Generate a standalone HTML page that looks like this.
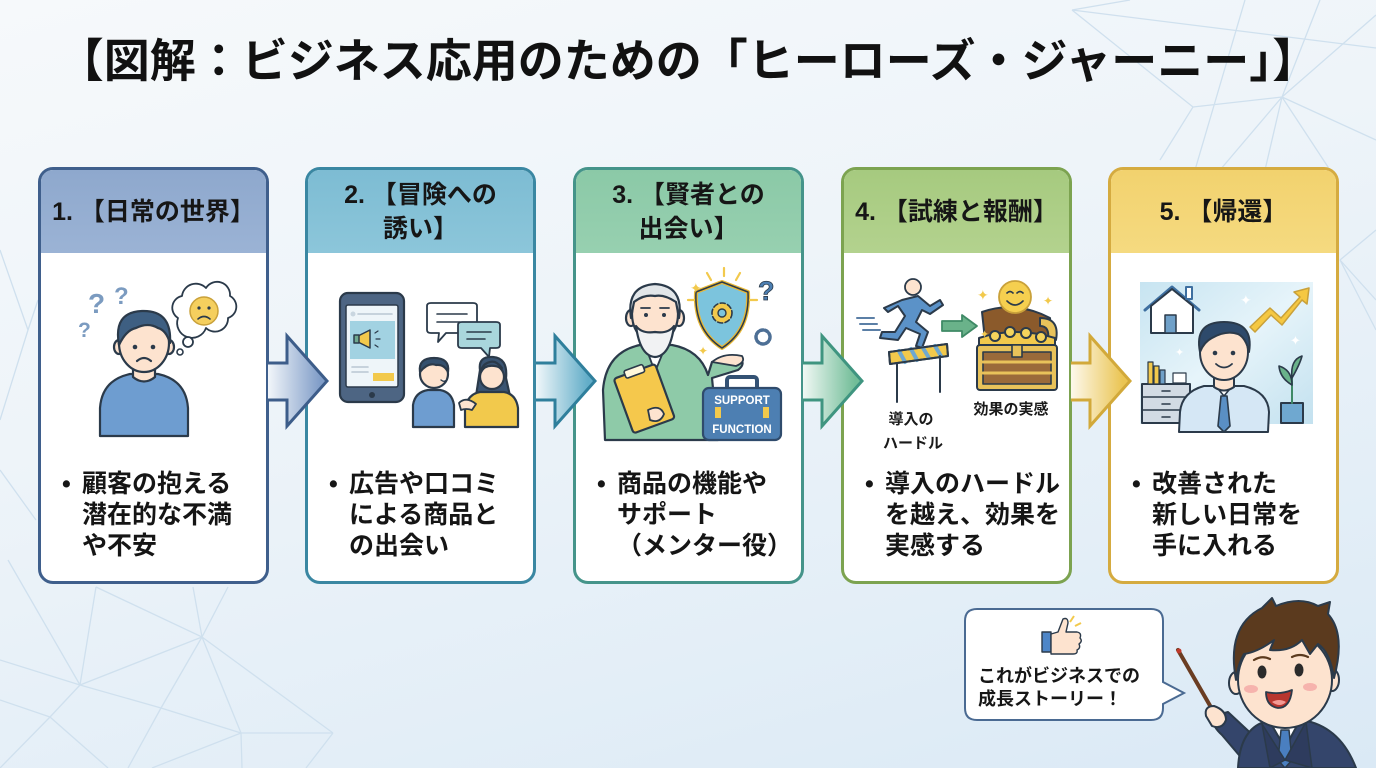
<!DOCTYPE html>
<html lang="ja"><head><meta charset="utf-8">
<style>
*{margin:0;padding:0;box-sizing:border-box}
html,body{width:1376px;height:768px;overflow:hidden}
body{position:relative;font-family:"Liberation Sans","Noto Sans CJK JP",sans-serif;color:#161616;
background:linear-gradient(165deg,#f6f9fb 0%,#eef4f9 40%,#e3eef7 75%,#dae9f5 100%)}
.title{position:absolute;left:0;top:31px;width:1376px;text-align:center;font-size:46px;font-weight:700;line-height:60px;color:#111;white-space:nowrap}
.card{position:absolute;top:167px;width:231px;height:417px;border:3px solid;border-radius:15px;background:#fff;overflow:hidden}
.hd{height:83px;display:flex;align-items:center;justify-content:center;text-align:center;font-size:25px;font-weight:700;line-height:34px;white-space:nowrap}
.bd{position:absolute;top:299px;left:41px;font-size:25px;line-height:31px;font-weight:700;white-space:nowrap;color:#151515}
.bu{position:absolute;top:299px;left:21px;font-size:25px;line-height:31px;font-weight:700}
.bubtxt{position:absolute;left:978px;top:665px;font-size:18px;line-height:23px;font-weight:700;white-space:nowrap;color:#161616}
</style></head><body>

<svg width="1376" height="768" style="position:absolute;left:0;top:0" stroke="#cfe0ee" stroke-width="1.3" fill="none">
<path d="M96 587L80 685M96 587L202 637M193 587L202 637M228 587L202 637M0 660L80 685M80 685L202 637M80 685L161 708M80 685L50 717M202 637L241 733M202 637L161 708M202 637L333 733M161 708L241 733M161 708L128 768M241 733L333 733M241 733L152 768M241 733L242 768M333 733L306 768M50 717L0 768M50 717L108 768M0 700L50 717M8 560L80 685"/>
<path d="M1072 10L1193 107M1193 107L1282 97M1072 10L1376 48M1282 97L1376 15M1282 97L1220 170M1282 97L1265 170M1282 97L1330 170M1282 97L1376 140M1245 0L1195 170M1130 0L1072 10M1320 0L1282 97M1193 107L1160 160"/>
<path d="M0 250L28 330M28 330L0 420M28 330L38 300M0 470L36 520M1340 260L1376 230M1340 260L1376 330M1340 260L1376 300"/>
</svg>

<div class="title">【図解：ビジネス応用のための「ヒーローズ・ジャーニー」】</div>

<div class="card" style="left:38px;border-color:#3f5f8c">
  <div class="hd" style="background:linear-gradient(180deg,#8ea8cd,#9bb3d5)">1. 【日常の世界】</div>
  <div class="bu">•</div>
  <div class="bd">顧客の抱える<br>潜在的な不満<br>や不安</div>
</div>
<div class="card" style="left:305px;border-color:#3a87a2">
  <div class="hd" style="background:linear-gradient(180deg,#7dbcd3,#8cc6da)">2. 【冒険への<br>誘い】</div>
  <div class="bu">•</div>
  <div class="bd">広告や口コミ<br>による商品と<br>の出会い</div>
</div>
<div class="card" style="left:573px;border-color:#45948a">
  <div class="hd" style="background:linear-gradient(180deg,#8bc9a7,#97d0b0)">3. 【賢者との<br>出会い】</div>
  <div class="bu">•</div>
  <div class="bd">商品の機能や<br>サポート<br>（メンター役）</div>
</div>
<div class="card" style="left:841px;border-color:#7ca350">
  <div class="hd" style="background:linear-gradient(180deg,#a6ca7f,#b3d28e)">4. 【試練と報酬】</div>
  <div class="bu">•</div>
  <div class="bd">導入のハードル<br>を越え、効果を<br>実感する</div>
</div>
<div class="card" style="left:1108px;border-color:#d5ab40">
  <div class="hd" style="background:linear-gradient(180deg,#f2d26e,#f5da80)">5. 【帰還】</div>
  <div class="bu">•</div>
  <div class="bd">改善された<br>新しい日常を<br>手に入れる</div>
</div>

<svg width="1376" height="768" style="position:absolute;left:0;top:0">
<defs>
 <linearGradient id="g1" gradientUnits="userSpaceOnUse" x1="268" x2="320" y1="0" y2="0"><stop offset="0" stop-color="#f2f6fa"/><stop offset="1" stop-color="#809dc8"/></linearGradient>
 <linearGradient id="g2" gradientUnits="userSpaceOnUse" x1="536" x2="588" y1="0" y2="0"><stop offset="0" stop-color="#f0f7fa"/><stop offset="1" stop-color="#62adc8"/></linearGradient>
 <linearGradient id="g3" gradientUnits="userSpaceOnUse" x1="803" x2="855" y1="0" y2="0"><stop offset="0" stop-color="#f0f8f4"/><stop offset="1" stop-color="#72bd98"/></linearGradient>
 <linearGradient id="g4" gradientUnits="userSpaceOnUse" x1="1071" x2="1123" y1="0" y2="0"><stop offset="0" stop-color="#fdf9ec"/><stop offset="1" stop-color="#eac452"/></linearGradient>
 <linearGradient id="sky" x1="0" y1="0" x2="1" y2="1"><stop offset="0" stop-color="#c7e4f1"/><stop offset="0.5" stop-color="#e6f4fa"/><stop offset="1" stop-color="#c3e1ef"/></linearGradient>
</defs>

<!-- arrows -->
<g stroke-width="3" stroke-linejoin="miter">
 <path d="M268 363H287V336L327 381L287 426V400H268Z" fill="url(#g1)" stroke="none"/>
 <path d="M268 363H287V336L327 381L287 426V400H268" fill="none" stroke="#3d5d8a"/>
 <path d="M536 363H555V336L595 381L555 426V400H536Z" fill="url(#g2)" stroke="none"/>
 <path d="M536 363H555V336L595 381L555 426V400H536" fill="none" stroke="#2f7f9c"/>
 <path d="M803 363H822V336L862 381L822 426V400H803Z" fill="url(#g3)" stroke="none"/>
 <path d="M803 363H822V336L862 381L822 426V400H803" fill="none" stroke="#3f9580"/>
 <path d="M1071 363H1090V336L1130 381L1090 426V400H1071Z" fill="url(#g4)" stroke="none"/>
 <path d="M1071 363H1090V336L1130 381L1090 426V400H1071" fill="none" stroke="#d2a93a"/>
</g>

<!-- Card 1 illustration -->
<g stroke="#2b3a4a" stroke-width="2.2" stroke-linejoin="round" stroke-linecap="round">
 <path d="M100 436V408Q102 380 130 374H158Q186 380 188 408V436Z" fill="#6e9dd0"/>
 <path d="M133 362V377Q144 386 155 377V362Z" fill="#fde3cf"/>
 <ellipse cx="119" cy="347" rx="5" ry="7" fill="#fde3cf"/>
 <ellipse cx="169" cy="347" rx="5" ry="7" fill="#fde3cf"/>
 <ellipse cx="144" cy="343" rx="25" ry="29" fill="#fde3cf"/>
 <path d="M119 345Q113 312 142 311Q172 310 170 343Q166 330 158 328Q148 322 136 328Q126 330 119 345Z" fill="#3e5f82"/>
 <circle cx="135" cy="347" r="2.3" fill="#2b3a4a" stroke="none"/>
 <circle cx="153" cy="347" r="2.3" fill="#2b3a4a" stroke="none"/>
 <path d="M137 361Q144 355 151 361" fill="none"/>
 <path d="M178 318a12 12 0 0 1 4-22a14 14 0 0 1 24-8a13 13 0 0 1 24 8a12 12 0 0 1-2 22a13 13 0 0 1-22 10a14 14 0 0 1-28-10z" fill="#fff" stroke-width="1.8"/>
 <circle cx="188" cy="342" r="5" fill="#fff" stroke-width="1.8"/>
 <circle cx="180" cy="352" r="3" fill="#fff" stroke-width="1.6"/>
 <circle cx="204" cy="311" r="14" fill="#f5cf5e" stroke="#c9a13a" stroke-width="1.5"/>
 <circle cx="199" cy="308" r="1.6" fill="#2b3a4a" stroke="none"/>
 <circle cx="209" cy="308" r="1.6" fill="#2b3a4a" stroke="none"/>
 <path d="M198 319Q204 314 210 319" fill="none" stroke-width="1.6"/>
</g>
<g fill="#7b9bc0" font-family="Liberation Sans,sans-serif" font-weight="700">
 <text x="88" y="313" font-size="28">?</text>
 <text x="114" y="304" font-size="24">?</text>
 <text x="78" y="337" font-size="21">?</text>
</g>

<!-- Card 2 illustration -->
<g stroke="#2b3a4a" stroke-width="2.2" stroke-linejoin="round" stroke-linecap="round">
 <rect x="340" y="293" width="64" height="109" rx="8" fill="#4d6583"/>
 <rect x="346" y="305" width="52" height="82" rx="2" fill="#eef5f9" stroke-width="1.5"/>
 <rect x="350" y="321" width="45" height="38" fill="#a2d2e2" stroke="none"/>
 <path d="M358 336L370 330V348L358 342Z" fill="#f2c94c" stroke-width="1.5"/>
 <rect x="354" y="335" width="5" height="8" fill="#6fa88f" stroke-width="1.5"/>
 <path d="M375 333L378 331M376 339H380M375 345L378 347" stroke-width="1.2"/>
 <circle cx="353" cy="314" r="2.5" fill="#c9d6e0" stroke="none"/>
 <path d="M358 314H392M352 367H368M352 372H368" stroke="#b8c6d2" stroke-width="1.6"/>
 <rect x="373" y="373" width="21" height="8" fill="#f2c94c" stroke="none"/>
 <circle cx="372" cy="395" r="3" fill="#2b3a4a" stroke="none"/>
 <path d="M427 306Q427 303 431 303H473Q477 303 477 306V330Q477 333 473 333H446L438 342L439 333H431Q427 333 427 330Z" fill="#fff" stroke-width="1.8"/>
 <path d="M437 314H467M437 322H460" stroke-width="1.6"/>
 <path d="M458 325Q458 322 462 322H496Q500 322 500 325V345Q500 348 496 348H490L489 357L481 348H462Q458 348 458 345Z" fill="#a9d6dc" stroke-width="1.8"/>
 <path d="M467 332H491M467 339H485" stroke-width="1.6"/>
 <path d="M413 427V405Q415 392 428 390H440Q452 392 454 405V427Z" fill="#6e9dd0"/>
 <circle cx="434" cy="374" r="14" fill="#fde3cf"/>
 <path d="M420 372Q418 358 434 358Q450 358 448 372Q444 364 436 365Q428 362 420 372Z" fill="#34506e"/>
 <path d="M441 380Q445 383 447 379" fill="#fff" stroke-width="1.4"/>
 <path d="M480 370Q478 356 493 357Q508 358 506 378L510 396L476 396Z" fill="#3a5472"/>
 <path d="M465 427V408Q468 394 480 392H504Q516 394 518 408V427Z" fill="#f2c94c"/>
 <circle cx="492" cy="377" r="12" fill="#fde3cf"/>
 <path d="M481 372Q486 362 502 368Q496 360 490 362Q482 364 481 372Z" fill="#3a5472"/>
 <path d="M459 403Q466 396 476 404L472 410Q466 408 461 410Z" fill="#fde3cf" stroke-width="1.8"/>
</g>

<!-- Card 3 illustration -->
<g stroke="#2b3a4a" stroke-width="2.2" stroke-linejoin="round" stroke-linecap="round">
 <path d="M605 440L603 390Q606 352 640 345H672Q700 350 708 375L712 362L740 358Q746 364 738 370L712 378L718 440Z" fill="#8ecaa8"/>
 <path d="M645 345L655 372L666 345Z" fill="#fff" stroke-width="1.8"/>
 <ellipse cx="631" cy="318" rx="5" ry="8" fill="#fde3cf"/>
 <ellipse cx="679" cy="318" rx="5" ry="8" fill="#fde3cf"/>
 <ellipse cx="655" cy="314" rx="23" ry="29" fill="#fde3cf"/>
 <path d="M631 318Q626 286 655 284Q684 286 679 318L676 302Q664 294 655 296Q644 294 634 302Z" fill="#e2e6e9"/>
 <path d="M636 326Q640 356 655 357Q670 356 674 326Q668 334 655 332Q642 334 636 326Z" fill="#f1f2f3"/>
 <circle cx="646" cy="315" r="2" fill="#2b3a4a" stroke="none"/>
 <circle cx="664" cy="315" r="2" fill="#2b3a4a" stroke="none"/>
 <path d="M641 308H650M660 308H669" stroke-width="1.8"/>
 <path d="M712 362Q724 352 742 356Q746 362 736 366Z" fill="#fde3cf" stroke-width="1.8"/>
 <g transform="rotate(-20 643 398)">
  <rect x="622" y="370" width="44" height="58" rx="3" fill="#f5c84c"/>
  <rect x="634" y="366" width="20" height="8" rx="2" fill="#fff8dc" stroke-width="1.6"/>
 </g>
 <path d="M648 410Q660 404 664 414Q660 424 650 420Z" fill="#fde3cf" stroke-width="1.8"/>
 <path d="M722 282L748 292Q750 330 722 348Q694 330 696 292Z" fill="#7cc4dd" stroke="#e8b836" stroke-width="4"/>
 <path d="M722 282L748 292Q750 330 722 348Q694 330 696 292Z" fill="none" stroke="#2b3a4a" stroke-width="1.5"/>
 <circle cx="722" cy="313" r="10" fill="#f2c94c" stroke="#2b3a4a" stroke-width="1.6" stroke-dasharray="5 2.5"/>
 <circle cx="722" cy="313" r="4" fill="#7cc4dd" stroke-width="1.4"/>
 <circle cx="763" cy="337" r="7" fill="#fff" stroke="#4d6f95" stroke-width="3.5" stroke-dasharray="3 2"/>
 <path d="M724 268V276M707 273L711 280M740 273L736 280M688 300H694M750 300H757" stroke="#f2c94c" stroke-width="2.2"/>
 <rect x="727" y="377" width="30" height="13" rx="3" fill="none" stroke-width="4" stroke="#345274"/>
 <rect x="703" y="388" width="78" height="52" rx="6" fill="#4d7fb2" stroke="#2f4b6c"/>
 <rect x="715" y="407" width="6" height="11" fill="#f2c94c" stroke="none"/>
 <rect x="763" y="407" width="6" height="11" fill="#f2c94c" stroke="none"/>
</g>
<text x="690" y="293" font-size="14" fill="#f2c94c" font-family="DejaVu Sans,sans-serif">✦</text>
<text x="698" y="355" font-size="12" fill="#f2c94c" font-family="DejaVu Sans,sans-serif">✦</text>
<text x="758" y="300" font-size="27" font-weight="700" fill="#4d7fb2" stroke="#2b3a4a" stroke-width="0.8" font-family="Liberation Sans,sans-serif">?</text>
<text x="742" y="404" font-size="11.5" font-weight="700" fill="#fff" text-anchor="middle" font-family="Liberation Sans,sans-serif">SUPPORT</text>
<text x="742" y="433" font-size="11.5" font-weight="700" fill="#fff" text-anchor="middle" font-family="Liberation Sans,sans-serif">FUNCTION</text>

<!-- Card 4 illustration -->
<g stroke="#2b3a4a" stroke-width="2" stroke-linejoin="round" stroke-linecap="round">
 <path d="M857 318H874M860 324H877M863 330H880" stroke="#5b7fa6"/>
 <path d="M902 300L918 296L930 306L940 300L943 305L930 314L922 310L916 322L928 332L922 348L916 346L920 334L906 328L898 340L880 338L882 332L895 332L905 316L898 306L888 312L884 308Z" fill="#5b92c8"/>
 <circle cx="913" cy="287" r="8" fill="#fde3cf" stroke-width="1.8"/>
 <path d="M889 352L947 344L948 356L890 364Z" fill="#f2c94c"/>
 <path d="M899 351L905 362M911 349L917 360M923 348L929 358M935 346L941 356" stroke="#6fa8d0" stroke-width="4"/>
 <path d="M889 352L947 344L948 356L890 364Z" fill="none"/>
 <path d="M897 363V402M940 356V392"/>
 <path d="M942 321H962V315L977 326L962 337V331H942Z" fill="#6ab28a" stroke="#3f8a66" stroke-width="1.8"/>
 <path d="M985 340L982 312Q1015 300 1050 318L1052 340Z" fill="#8b5a2b"/>
 <path d="M1040 318Q1060 318 1056 340L1048 340Q1050 326 1040 326Z" fill="#e8c25a"/>
 <path d="M979 338Q1015 326 1055 338L1055 346H979Z" fill="#f2c94c"/>
 <circle cx="995" cy="336" r="5" fill="#f5d45c"/><circle cx="1010" cy="332" r="5" fill="#f5d45c"/><circle cx="1026" cy="333" r="5" fill="#f5d45c"/><circle cx="1041" cy="337" r="5" fill="#f5d45c"/>
 <rect x="977" y="345" width="80" height="45" rx="3" fill="#e8c25a"/>
 <path d="M983 352H1051V384H983Z" fill="#9a6a3a" stroke-width="1.6"/>
 <path d="M983 362H1051M983 373H1051" stroke="#e8c25a" stroke-width="3"/>
 <rect x="1012" y="345" width="10" height="12" fill="#e8c25a" stroke-width="1.6"/>
 <circle cx="1015" cy="297" r="16" fill="#f5cf4f" stroke="#c9a13a" stroke-width="1.8"/>
 <path d="M1007 293Q1010 290 1013 293M1017 293Q1020 290 1023 293M1007 301Q1015 309 1023 301" fill="none" stroke="#2b3a4a" stroke-width="1.6"/>
</g>
<g fill="#f2c94c" font-family="DejaVu Sans,sans-serif">
 <text x="977" y="300" font-size="14">✦</text>
 <text x="1043" y="305" font-size="12">✦</text>
 <text x="980" y="338" font-size="11">✦</text>
</g>
<g font-size="15" font-weight="700" fill="#1a1a1a" text-anchor="middle">
 <text x="911" y="424">導入の</text>
 <text x="913" y="448">ハードル</text>
 <text x="1011" y="414">効果の実感</text>
</g>

<!-- Card 5 illustration -->
<rect x="1140" y="282" width="173" height="142" fill="url(#sky)"/>
<g stroke="#2b3a4a" stroke-width="2" stroke-linejoin="round" stroke-linecap="round">
 <path d="M1145 310L1172 287L1199 310" fill="none" stroke="#3e6fa0" stroke-width="3"/>
 <path d="M1151 306V333H1193V306L1172 289Z" fill="#fff" stroke="#2b3a4a"/>
 <rect x="1165" y="315" width="11" height="18" fill="#6fa0c8" stroke-width="1.5"/>
 <rect x="1186" y="287" width="6" height="12" fill="#fff" stroke="#3e6fa0" stroke-width="2"/>
 <path d="M1250 327L1270 308L1281 318L1300 297L1294 292L1309 288L1307 304L1302 300L1282 325L1271 315L1255 332Z" fill="#f5c842" stroke="#c9a13a" stroke-width="1.5"/>
 <rect x="1142" y="384" width="48" height="39" fill="#d2dbe4"/>
 <path d="M1142 397H1190M1142 410H1190M1162 391H1170M1162 404H1170M1162 417H1170" stroke-width="1.5"/>
 <rect x="1148" y="362" width="5" height="22" fill="#f2c94c" stroke-width="1.2"/>
 <rect x="1154" y="366" width="5" height="18" fill="#f2c94c" stroke-width="1.2"/>
 <rect x="1160" y="370" width="5" height="14" fill="#6fa0c8" stroke-width="1.2"/>
 <rect x="1173" y="373" width="13" height="10" fill="#fff" stroke-width="1.2"/>
 <path d="M1268 432L1269 412Q1268 392 1244 386H1204Q1182 392 1180 412L1179 432Z" fill="#d5e7f5"/>
 <path d="M1214 384L1224 396L1234 384Z" fill="#fff" stroke-width="1.6"/>
 <path d="M1221 396L1227 396L1230 426L1224 432L1218 426Z" fill="#5a8fc4" stroke-width="1.6"/>
 <path d="M1214 372V387Q1224 394 1234 387V372Z" fill="#fde3cf"/>
 <ellipse cx="1224" cy="352" rx="24" ry="28" fill="#fde3cf"/>
 <path d="M1200 352Q1194 322 1224 322Q1254 322 1249 352Q1246 338 1238 334Q1226 330 1212 338Q1204 342 1200 352Z" fill="#2e4a6b"/>
 <circle cx="1215" cy="353" r="2.3" fill="#2b3a4a" stroke="none"/>
 <circle cx="1233" cy="353" r="2.3" fill="#2b3a4a" stroke="none"/>
 <path d="M1216 364Q1224 371 1232 364" fill="none" stroke-width="1.8"/>
 <rect x="1281" y="403" width="22" height="20" fill="#6fa8d0"/>
 <path d="M1292 403V372" stroke="#3f8a66"/>
 <path d="M1292 385Q1280 378 1279 366Q1292 370 1292 385Z" fill="#6ab28a" stroke-width="1.6"/>
 <path d="M1292 378Q1300 364 1302 356Q1290 360 1292 378Z" fill="#6ab28a" stroke-width="1.6"/>
</g>
<g fill="#fff" font-family="DejaVu Sans,sans-serif">
 <text x="1240" y="305" font-size="14">✦</text>
 <text x="1290" y="345" font-size="13">✦</text>
 <text x="1175" y="356" font-size="11">✦</text>
</g>

<!-- speech bubble -->
<path d="M977 609H1151Q1163 609 1163 621V682L1184 693L1163 704V708Q1163 720 1151 720H977Q965 720 965 708V621Q965 609 977 609Z" fill="#fff" stroke="#4a6a92" stroke-width="2"/>
<g stroke="#2b3a4a" stroke-width="1.4" stroke-linejoin="round">
 <rect x="1042" y="632" width="9" height="20" fill="#4e86c8"/>
 <path d="M1051 634L1058 632L1063 619Q1068 617 1068 623L1066 632H1077Q1082 633 1080 638Q1083 641 1079 644Q1081 648 1077 650Q1078 654 1073 654H1051Z" fill="#fde3cf"/>
</g>
<path d="M1070 622L1074 616M1075 626L1081 623" stroke="#f2c94c" stroke-width="2"/>

<!-- presenter -->
<g stroke="#2b3a4a" stroke-width="2" stroke-linejoin="round" stroke-linecap="round">
 <path d="M1178 650L1216 716" stroke="#6a3d22" stroke-width="4"/>
 <circle cx="1179" cy="651" r="2.5" fill="#c0392b" stroke="none"/>
 <path d="M1250 768L1222 735Q1210 724 1214 716L1228 712L1258 740L1262 768Z" fill="#34456b"/>
 <path d="M1206 716Q1204 706 1214 706Q1226 710 1226 720Q1222 730 1212 726Z" fill="#fde3cf"/>
 <path d="M1238 768Q1240 730 1264 722L1302 720Q1340 726 1356 768Z" fill="#34456b"/>
 <path d="M1270 722L1285 748L1300 720Z" fill="#fff"/>
 <path d="M1281 730H1289L1292 760L1285 768L1278 760Z" fill="#4a7fc0" stroke-width="1.5"/>
 <path d="M1262 724L1285 760L1270 768Z" fill="#2e3c5e" stroke-width="1.5"/>
 <path d="M1306 722L1285 760L1312 768Z" fill="#2e3c5e" stroke-width="1.5"/>
 <ellipse cx="1236" cy="683" rx="7" ry="11" fill="#fde3cf"/>
 <ellipse cx="1332" cy="680" rx="7" ry="11" fill="#fde3cf"/>
 <ellipse cx="1285" cy="680" rx="47" ry="48" fill="#fde3cf"/>
 <path d="M1236 680Q1226 626 1262 608L1272 598L1276 606Q1300 596 1318 606L1330 602L1328 614Q1346 634 1334 678Q1330 652 1318 644L1310 654L1302 640Q1290 652 1270 650L1274 640Q1258 652 1244 654Q1238 664 1236 680Z" fill="#5b3a1e"/>
 <ellipse cx="1262" cy="672" rx="4.5" ry="6.5" fill="#2b2b2b" stroke="none"/>
 <ellipse cx="1299" cy="670" rx="4.5" ry="6.5" fill="#2b2b2b" stroke="none"/>
 <path d="M1254 660Q1262 655 1270 659M1292 657Q1300 653 1308 657" stroke="#5b3a1e" stroke-width="2.2" fill="none"/>
 <ellipse cx="1251" cy="689" rx="7" ry="4" fill="#f6b3ad" stroke="none"/>
 <ellipse cx="1310" cy="687" rx="7" ry="4" fill="#f6b3ad" stroke="none"/>
 <path d="M1266 692Q1280 695 1292 690Q1290 708 1278 708Q1266 706 1266 692Z" fill="#b8362f" stroke-width="1.8"/>
 <path d="M1272 702Q1279 698 1286 702Q1280 708 1272 702Z" fill="#f29a94" stroke="none"/>
</g>
</svg>

<div class="bubtxt">これがビジネスでの<br>成長ストーリー！</div>
</body></html>
